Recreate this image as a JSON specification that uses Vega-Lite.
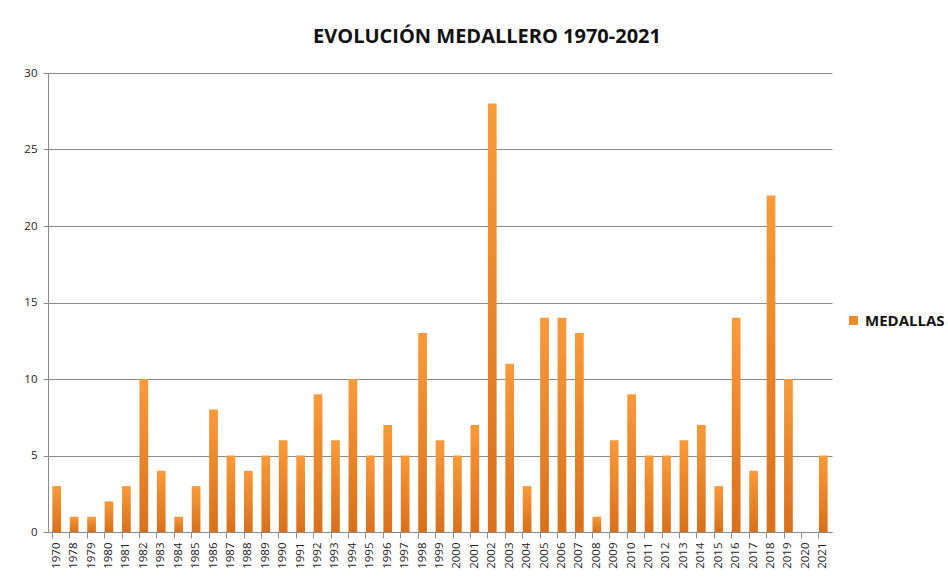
{
  "$schema": "https://vega.github.io/schema/vega-lite/v6.json",
  "width": 784,
  "height": 459,
  "autosize": {"type": "none"},
  "padding": {"left": 48, "top": 73, "right": 116, "bottom": 48},
  "background": "white",
  "title": {
    "text": "EVOLUCIÓN MEDALLERO 1970-2021",
    "font": "Open Sans",
    "fontSize": 20,
    "fontWeight": "bold",
    "color": "#111111",
    "anchor": "middle",
    "dx": 47,
    "offset": 20
  },
  "data": {
    "values": [
      {"anio": "1970", "medallas": 3, "serie": "MEDALLAS"},
      {"anio": "1978", "medallas": 1, "serie": "MEDALLAS"},
      {"anio": "1979", "medallas": 1, "serie": "MEDALLAS"},
      {"anio": "1980", "medallas": 2, "serie": "MEDALLAS"},
      {"anio": "1981", "medallas": 3, "serie": "MEDALLAS"},
      {"anio": "1982", "medallas": 10, "serie": "MEDALLAS"},
      {"anio": "1983", "medallas": 4, "serie": "MEDALLAS"},
      {"anio": "1984", "medallas": 1, "serie": "MEDALLAS"},
      {"anio": "1985", "medallas": 3, "serie": "MEDALLAS"},
      {"anio": "1986", "medallas": 8, "serie": "MEDALLAS"},
      {"anio": "1987", "medallas": 5, "serie": "MEDALLAS"},
      {"anio": "1988", "medallas": 4, "serie": "MEDALLAS"},
      {"anio": "1989", "medallas": 5, "serie": "MEDALLAS"},
      {"anio": "1990", "medallas": 6, "serie": "MEDALLAS"},
      {"anio": "1991", "medallas": 5, "serie": "MEDALLAS"},
      {"anio": "1992", "medallas": 9, "serie": "MEDALLAS"},
      {"anio": "1993", "medallas": 6, "serie": "MEDALLAS"},
      {"anio": "1994", "medallas": 10, "serie": "MEDALLAS"},
      {"anio": "1995", "medallas": 5, "serie": "MEDALLAS"},
      {"anio": "1996", "medallas": 7, "serie": "MEDALLAS"},
      {"anio": "1997", "medallas": 5, "serie": "MEDALLAS"},
      {"anio": "1998", "medallas": 13, "serie": "MEDALLAS"},
      {"anio": "1999", "medallas": 6, "serie": "MEDALLAS"},
      {"anio": "2000", "medallas": 5, "serie": "MEDALLAS"},
      {"anio": "2001", "medallas": 7, "serie": "MEDALLAS"},
      {"anio": "2002", "medallas": 28, "serie": "MEDALLAS"},
      {"anio": "2003", "medallas": 11, "serie": "MEDALLAS"},
      {"anio": "2004", "medallas": 3, "serie": "MEDALLAS"},
      {"anio": "2005", "medallas": 14, "serie": "MEDALLAS"},
      {"anio": "2006", "medallas": 14, "serie": "MEDALLAS"},
      {"anio": "2007", "medallas": 13, "serie": "MEDALLAS"},
      {"anio": "2008", "medallas": 1, "serie": "MEDALLAS"},
      {"anio": "2009", "medallas": 6, "serie": "MEDALLAS"},
      {"anio": "2010", "medallas": 9, "serie": "MEDALLAS"},
      {"anio": "2011", "medallas": 5, "serie": "MEDALLAS"},
      {"anio": "2012", "medallas": 5, "serie": "MEDALLAS"},
      {"anio": "2013", "medallas": 6, "serie": "MEDALLAS"},
      {"anio": "2014", "medallas": 7, "serie": "MEDALLAS"},
      {"anio": "2015", "medallas": 3, "serie": "MEDALLAS"},
      {"anio": "2016", "medallas": 14, "serie": "MEDALLAS"},
      {"anio": "2017", "medallas": 4, "serie": "MEDALLAS"},
      {"anio": "2018", "medallas": 22, "serie": "MEDALLAS"},
      {"anio": "2019", "medallas": 10, "serie": "MEDALLAS"},
      {"anio": "2020", "medallas": 0, "serie": "MEDALLAS"},
      {"anio": "2021", "medallas": 5, "serie": "MEDALLAS"}
    ]
  },
  "mark": {
    "type": "bar",
    "fill": {
      "gradient": "linear",
      "x1": 0, "y1": 0, "x2": 0, "y2": 1,
      "stops": [
        {"offset": 0, "color": "#F99A3A"},
        {"offset": 1, "color": "#D8701C"}
      ]
    }
  },
  "encoding": {
    "x": {
      "field": "anio",
      "type": "nominal",
      "sort": null,
      "scale": {"paddingInner": 0.5, "paddingOuter": 0.25},
      "axis": {
        "title": null,
        "labelAngle": -90,
        "labelFont": "Open Sans",
        "labelFontSize": 11.5,
        "labelColor": "#222222",
        "labelPadding": 4,
        "domainColor": "#8a8a8a",
        "tickColor": "#8a8a8a",
        "tickSize": 6,
        "bandPosition": 0
      }
    },
    "y": {
      "field": "medallas",
      "type": "quantitative",
      "scale": {"domain": [0, 30]},
      "axis": {
        "title": null,
        "values": [0, 5, 10, 15, 20, 25, 30],
        "labelFont": "Open Sans",
        "labelFontSize": 11.5,
        "labelColor": "#222222",
        "labelPadding": 6,
        "domainColor": "#8a8a8a",
        "tickColor": "#8a8a8a",
        "tickSize": 5,
        "gridColor": "#8a8a8a",
        "gridWidth": 1
      }
    },
    "color": {
      "field": "serie",
      "type": "nominal",
      "scale": {"range": ["#F08A24"]},
      "legend": {
        "title": null,
        "orient": "none",
        "legendX": 798,
        "legendY": 240,
        "symbolType": "square",
        "symbolSize": 80,
        "labelOffset": 4,
        "labelFont": "Open Sans",
        "labelFontSize": 15,
        "labelFontWeight": "bold",
        "labelColor": "#111111",
        "labelLimit": 200
      }
    }
  },
  "config": {
    "view": {"stroke": null}
  }
}
